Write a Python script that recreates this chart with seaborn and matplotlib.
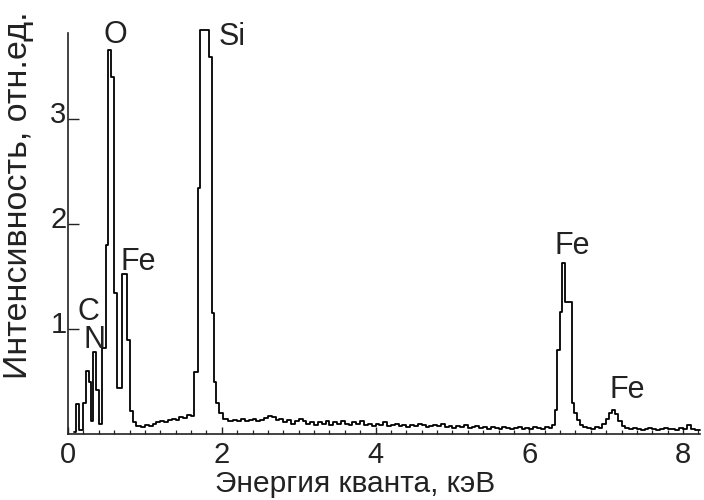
import numpy as np
import pandas as pd
import seaborn as sns
import matplotlib
matplotlib.use("Agg")
import matplotlib.pyplot as plt
import matplotlib.transforms as mtransforms

# EDX spectrum, stored as step channels: each intensity holds from its energy to the next one
# Light elements (C, N, O) and the Fe L line
e_light = [0.08, 0.11, 0.14, 0.20, 0.23, 0.27, 0.30, 0.33, 0.37, 0.40, 0.44, 0.49, 0.52,
           0.555, 0.60, 0.635, 0.70, 0.77, 0.80, 0.84, 0.88, 0.95]
i_light = [0.02, 0.29, 0.04, 0.30, 0.60, 0.50, 0.12, 0.78, 0.42, 0.10, 0.82, 1.80, 3.66,
           3.40, 1.34, 0.44, 1.52, 0.90, 0.22, 0.11, 0.08, 0.07]

# Bremsstrahlung background and the Si K line
e_si = [1.00, 1.05, 1.10, 1.15, 1.20, 1.25, 1.30, 1.35, 1.40, 1.45, 1.50, 1.55, 1.60,
        1.64, 1.69, 1.72, 1.83, 1.87, 1.90, 1.93, 1.97, 2.02, 2.08]
i_si = [0.09, 0.08, 0.10, 0.11, 0.12, 0.11, 0.13, 0.14, 0.13, 0.16, 0.15, 0.18, 0.17,
        0.59, 2.34, 3.85, 3.59, 1.15, 0.50, 0.30, 0.20, 0.14, 0.12]

# Background between the Si and Fe K lines
e_bg = [2.15, 2.20, 2.25, 2.30, 2.35, 2.40, 2.45, 2.50, 2.55, 2.60, 2.65, 2.70, 2.75,
        2.80, 2.85, 2.90, 2.95, 3.00, 3.05, 3.10, 3.15, 3.20, 3.25, 3.30, 3.35, 3.40,
        3.45, 3.50, 3.55, 3.60, 3.65, 3.70, 3.75, 3.80, 3.85, 3.90, 3.95, 4.00, 4.05,
        4.10, 4.15, 4.20, 4.25, 4.30, 4.35, 4.40, 4.45, 4.50, 4.55, 4.60, 4.65, 4.70,
        4.75, 4.80, 4.85, 4.90, 4.95, 5.00, 5.05, 5.10, 5.15, 5.20, 5.25, 5.30, 5.35,
        5.40, 5.45, 5.50, 5.55, 5.60, 5.65, 5.70, 5.75, 5.80, 5.85, 5.90, 5.95, 6.00,
        6.05, 6.10, 6.15, 6.20, 6.25]
i_bg = [0.13, 0.12, 0.14, 0.12, 0.13, 0.14, 0.12, 0.13, 0.15, 0.17, 0.16, 0.13, 0.14,
        0.11, 0.13, 0.10, 0.12, 0.14, 0.12, 0.10, 0.11, 0.09, 0.11, 0.10, 0.12, 0.09,
        0.11, 0.10, 0.12, 0.10, 0.09, 0.11, 0.10, 0.12, 0.09, 0.10, 0.08, 0.10, 0.09,
        0.11, 0.08, 0.09, 0.10, 0.08, 0.09, 0.07, 0.09, 0.08, 0.10, 0.09, 0.07, 0.08,
        0.09, 0.08, 0.10, 0.07, 0.08, 0.06, 0.08, 0.07, 0.09, 0.06, 0.07, 0.08, 0.06,
        0.07, 0.05, 0.07, 0.06, 0.05, 0.07, 0.06, 0.05, 0.06, 0.07, 0.05, 0.06, 0.05,
        0.07, 0.06, 0.05, 0.07, 0.06]

# Fe K-alpha and K-beta lines and the high-energy tail
e_fe = [6.30, 6.33, 6.36, 6.40, 6.43, 6.47, 6.55, 6.58, 6.62, 6.66, 6.70, 6.75, 6.80,
        6.85, 6.90, 6.95, 7.00, 7.04, 7.08, 7.12, 7.16, 7.20, 7.25, 7.30, 7.35, 7.40,
        7.45, 7.50, 7.55, 7.60, 7.65, 7.70, 7.75, 7.80, 7.85, 7.90, 7.95, 8.00, 8.05,
        8.10, 8.15, 8.22]
i_fe = [0.09, 0.23, 0.80, 1.16, 1.63, 1.26, 0.30, 0.20, 0.13, 0.09, 0.07, 0.06, 0.05,
        0.07, 0.06, 0.10, 0.14, 0.20, 0.23, 0.19, 0.12, 0.08, 0.06, 0.05, 0.06, 0.05,
        0.04, 0.05, 0.06, 0.05, 0.04, 0.05, 0.06, 0.05, 0.05, 0.04, 0.06, 0.05, 0.09,
        0.05, 0.04, 0.04]

# Element labels and their anchor positions (keV, intensity)
peak_labels = ["O", "Si", "Fe", "C", "N", "Fe", "Fe"]
label_x = [0.61, 2.14, 0.92, 0.26, 0.35, 6.56, 7.27]
label_y = [3.80, 3.78, 1.64, 1.16, 0.90, 1.79, 0.42]

x_ticks = [0, 2, 4, 6, 8]
y_ticks = [1, 2, 3]

spectrum = pd.DataFrame({
    "energy": e_light + e_si + e_bg + e_fe,
    "intensity": i_light + i_si + i_bg + i_fe,
})

sns.set_style("ticks")
plt.rcParams["font.family"] = ["Liberation Sans", "DejaVu Sans"]

ink = "#222222"
fig = plt.figure(figsize=(7.04, 5.0), dpi=100)
ax = fig.add_axes([0.0966, 0.132, 0.8977, 0.802])

sns.lineplot(data=spectrum, x="energy", y="intensity", ax=ax, color="black",
             linewidth=1.3, drawstyle="steps-post", estimator=None, clip_on=False)

ax.set_xlim(0, 8.22)
ax.set_ylim(0, 3.82)

sns.despine(ax=ax)
for side in ("left", "bottom"):
    ax.spines[side].set_linewidth(1.2)
    ax.spines[side].set_color(ink)

ax.set_xticks(x_ticks)
ax.set_xticks(np.arange(0, 8.21, 0.2), minor=True)
ax.set_yticks(y_ticks)
ax.tick_params(axis="x", which="major", direction="in", length=5, width=1.0,
               labelsize=21, pad=5, colors=ink)
ax.tick_params(axis="x", which="minor", direction="in", length=3, width=0.9,
               colors=ink)
ax.tick_params(axis="y", which="major", direction="in", length=8, width=1.0,
               labelsize=21, pad=1, colors=ink)
ax.tick_params(axis="y", which="minor", left=False)

# Nudge the y tick labels slightly above their ticks
shift = mtransforms.ScaledTranslation(0, 5 / 72, fig.dpi_scale_trans)
for lbl in ax.get_yticklabels():
    lbl.set_transform(lbl.get_transform() + shift)

ax.set_xlabel("Энергия кванта, кэВ", fontsize=21.5, color=ink)
ax.set_ylabel("Интенсивность, отн.ед.", fontsize=24.5, color=ink)
ax.xaxis.set_label_coords(0.454, -0.09)
ax.yaxis.set_label_coords(-0.054, 0.596)

for text, x, y in zip(peak_labels, label_x, label_y):
    ax.text(x, y, text, fontsize=22, ha="center", va="center", color=ink)

fig.savefig("out.png", dpi=100)
